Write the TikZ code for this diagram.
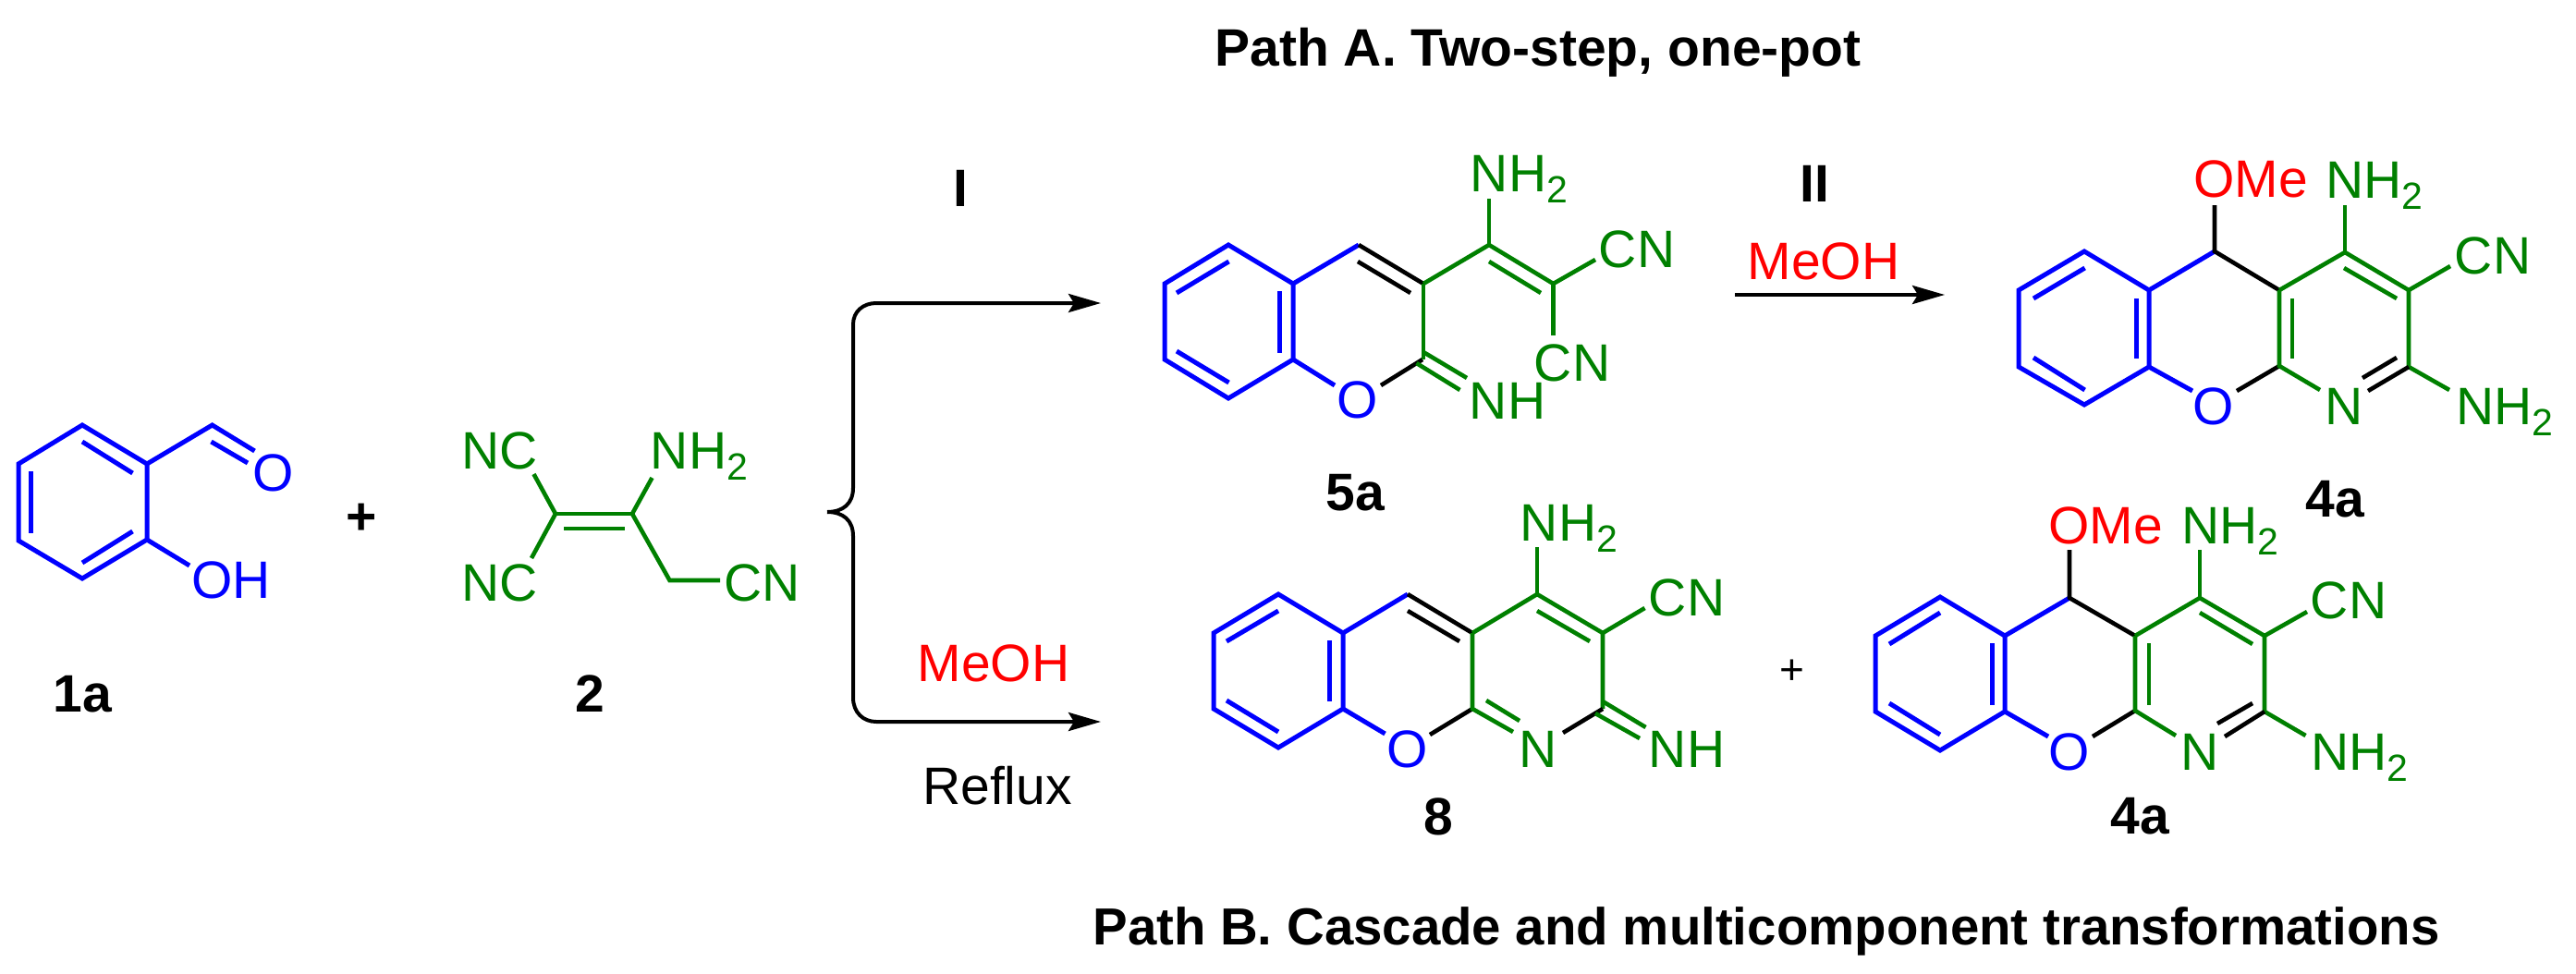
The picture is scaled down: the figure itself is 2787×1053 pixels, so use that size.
\documentclass[tikz,border=0pt]{standalone}
\usepackage{fontspec}
\setmainfont{Liberation Sans}
\usetikzlibrary{arrows.meta}
\definecolor{cgreen}{RGB}{0,128,0}
\definecolor{cblue}{RGB}{0,0,255}
\definecolor{cred}{RGB}{255,0,0}
\newcommand{\labsize}{\fontsize{57}{60}\selectfont}
\newcommand{\nhtwo}{NH\raisebox{-12pt}{\fontsize{41}{42}\selectfont 2}}
\tikzset{
  bl/.style={draw=cblue,line width=5pt,line join=miter},
  gr/.style={draw=cgreen,line width=4.6pt,line join=miter},
  bk/.style={draw=black,line width=4.6pt,line join=miter},
  txt/.style={inner sep=0pt,anchor=base,font=\labsize},
  gt/.style={txt,text=cgreen},
  bt/.style={txt,text=cblue},
  rt/.style={txt,text=cred},
  kt/.style={txt,text=black},
  cmp/.style={txt,text=black,font=\labsize\bfseries},
  arr/.style={draw=black,line width=4pt,-{Stealth[length=35pt,width=20pt,inset=6pt]}}
}
\begin{document}
\begin{tikzpicture}[x=1pt,y=-1pt]
\useasboundingbox (0,0) rectangle (2787,1053);
% titles
\node[cmp] (titleA) at (1664,71) {Path A. Two-step, one-pot};
\node[cmp,font=\fontsize{56.4}{60}\selectfont\bfseries] (titleB) at (1911,1022) {Path B. Cascade and multicomponent transformations};

% ===== 1a =====
\draw[bl] (89,460) -- (159,502) -- (159,584) -- (89,626) -- (20,585) -- (20,502) -- cycle;
\draw[bl] (89,478) -- (143.5,512);
\draw[bl] (33,510) -- (33,577);
\draw[bl] (89,609) -- (143.5,575);
\draw[bl] (159,502) -- (229.6,460) -- (275.5,488);
\draw[bl] (228.5,478) -- (268,501);
\draw[bl] (159,584) -- (205,612);
\node[bt] (o1) at (296,531) {O};
\node[bt] (oh1) at (250,647) {OH};
\node[cmp] (l1a) at (89.5,770) {1a};
\node[cmp] (plus1) at (391,578) {+};

% ===== 2 =====
\draw[gr] (601,556) -- (684,556);
\draw[gr] (610,572) -- (676,572);
\draw[gr] (577.5,513) -- (601,556) -- (575,604);
\draw[gr] (705.5,517) -- (684,556) -- (724.5,628) -- (779,628);
\node[gt] (nc2a) at (541,507) {NC};
\node[gt] (nc2b) at (541,650) {NC};
\node[gt] (nh22) at (756.5,507) {\nhtwo};
\node[gt] (cn2) at (825,650) {CN};
\node[cmp] (l2) at (638,770) {2};

% ===== brace and arrows =====
\coordinate (brace) at (895,554);
\coordinate (up) at (1191,328);
\coordinate (down) at (1191,781);
\draw[arr] (brace) .. controls (912,554) and (923,545) .. (923,528) -- (923,351) .. controls (923,337) and (934,328) .. (948,328) -- (up);
\draw[arr] (brace) .. controls (912,554) and (923,563) .. (923,580) -- (923,755) .. controls (923,771) and (934,781) .. (948,781) -- (down);
\node[cmp] (stepI) at (1039,223) {I};
\node[rt] (meoh1) at (1075,737) {MeOH};
\node[kt] (reflux) at (1079,870) {Reflux};

% ===== 5a =====
\draw[bl] (1329,265) -- (1399,307) -- (1399,389) -- (1329,431) -- (1260,389) -- (1260,307) -- cycle;
\draw[bl] (1273,317) -- (1329.5,283);
\draw[bl] (1384.6,315) -- (1384.6,382);
\draw[bl] (1273,380) -- (1329.5,414);
\draw[bl] (1399,307) -- (1470,265);
\draw[bl] (1399,389) -- (1444,417);
\draw[bk] (1470,265) -- (1540,307);
\draw[bk] (1469,283) -- (1526,317);
\draw[bk] (1494,417) -- (1539,389);
\draw[gr] (1540,307) -- (1540,389);
\draw[gr] (1540,381) -- (1587,409);
\draw[gr] (1532.5,393) -- (1579.5,422);
\draw[gr] (1540,307) -- (1611,265) -- (1680.5,307) -- (1726,281);
\draw[gr] (1611,283) -- (1667,317);
\draw[gr] (1611,265) -- (1611,215);
\draw[gr] (1680.5,307) -- (1680.5,363);
\node[bt] (o5) at (1469,452) {O};
\node[gt] (nh5) at (1631,453) {NH};
\node[gt] (nh25) at (1643.5,207) {\nhtwo};
\node[gt] (cn5a) at (1771,289) {CN};
\node[gt] (cn5b) at (1701,412) {CN};
\node[cmp] (l5a) at (1466,552) {5a};

% ===== arrow II =====
\coordinate (a2s) at (1877,319);
\coordinate (a2e) at (2104,319);
\draw[arr] (a2s) -- (a2e);
\node[cmp] (stepII) at (1963.5,218) {II};
\node[rt] (meoh2) at (1973,302) {MeOH};

% ===== 4a top =====
\draw[bl] (2255,272) -- (2325,314) -- (2325,397) -- (2255,438) -- (2184,397) -- (2184,314) -- cycle;
\draw[bl] (2200,323) -- (2255.6,290);
\draw[bl] (2311,323) -- (2311,388);
\draw[bl] (2200,387) -- (2255.6,422);
\draw[bl] (2325,314) -- (2396,272);
\draw[bl] (2325,397) -- (2372,423);
\draw[bk] (2396,222) -- (2396,272) -- (2466,314);
\draw[bk] (2420,423) -- (2466,396);
\draw[gr] (2466,314) -- (2537,273) -- (2606,314) -- (2606,397) -- (2650,422);
\draw[gr] (2536,290) -- (2593,323);
\draw[gr] (2537,273) -- (2537,222);
\draw[gr] (2606,314) -- (2651,288);
\draw[gr] (2466,314) -- (2466,396) -- (2510,422);
\draw[gr] (2480,323) -- (2480,388);
\draw[bk] (2562,423) -- (2606,397);
\draw[bk] (2556,409) -- (2593,387);
\node[rt] (ome4) at (2435,213) {OMe};
\node[gt] (nh24a) at (2569,214) {\nhtwo};
\node[gt] (cn4) at (2697,296) {CN};
\node[bt] (o4) at (2395,459) {O};
\node[gt] (n4) at (2536,459) {N};
\node[gt] (nh24b) at (2710,459) {\nhtwo};
\node[cmp] (l4a) at (2526,559) {4a};

% ===== 8 =====
\draw[bl] (1383,643) -- (1453,685) -- (1453,767) -- (1383,809) -- (1313,767) -- (1313,685) -- cycle;
\draw[bl] (1327,694) -- (1383,661);
\draw[bl] (1438,693) -- (1438,759);
\draw[bl] (1327,758) -- (1383,792);
\draw[bl] (1453,685) -- (1523,643);
\draw[bl] (1453,767) -- (1498.5,794);
\draw[bk] (1523,643) -- (1593,685);
\draw[bk] (1523,661) -- (1579,694);
\draw[bk] (1547,795) -- (1593,767);
\draw[gr] (1593,685) -- (1663,643) -- (1734,685) -- (1734,767);
\draw[gr] (1593,685) -- (1593,767) -- (1637,792);
\draw[gr] (1608,758) -- (1644,780);
\draw[gr] (1663,661) -- (1720,694);
\draw[gr] (1663,643) -- (1663,592);
\draw[gr] (1734,685) -- (1779.5,658);
\draw[bk] (1691,793) -- (1734,767);
\draw[gr] (1734,759) -- (1780.5,787);
\draw[gr] (1726,772) -- (1774,799);
\node[bt] (o8) at (1522.5,830) {O};
\node[gt] (n8) at (1664,830) {N};
\node[gt] (nh8) at (1825,830) {NH};
\node[gt] (nh28) at (1697.5,585) {\nhtwo};
\node[gt] (cn8) at (1825,666) {CN};
\node[cmp] (l8) at (1556,903) {8};
\node[txt,font=\fontsize{46}{48}\selectfont] (plus2) at (1939,740) {+};

% ===== 4a bottom =====
\draw[bl] (2099,646) -- (2169,688) -- (2169,770) -- (2099,812) -- (2029,770) -- (2029,688) -- cycle;
\draw[bl] (2044,697) -- (2099,663);
\draw[bl] (2155,696) -- (2155,763);
\draw[bl] (2044,761) -- (2099,795);
\draw[bl] (2169,688) -- (2239,647);
\draw[bl] (2169,770) -- (2216,797);
\draw[bk] (2239,595) -- (2239,647) -- (2310,688);
\draw[bk] (2264,797) -- (2310,769);
\draw[gr] (2310,688) -- (2380,647) -- (2450,688) -- (2450,770) -- (2494.5,796);
\draw[gr] (2380,663) -- (2437,697);
\draw[gr] (2380,647) -- (2380,595);
\draw[gr] (2450,688) -- (2496,662);
\draw[gr] (2310,688) -- (2310,769) -- (2354,796);
\draw[gr] (2325,696) -- (2325,763);
\draw[bk] (2407,797) -- (2450,770);
\draw[bk] (2399,783) -- (2437,761);
\node[rt] (ome4b) at (2278,588) {OMe};
\node[gt] (nh24c) at (2413,588) {\nhtwo};
\node[gt] (cn4b) at (2541,669) {CN};
\node[bt] (o4b) at (2239,833) {O};
\node[gt] (n4b) at (2380,833) {N};
\node[gt] (nh24d) at (2553,833) {\nhtwo};
\node[cmp] (l4b) at (2315,902) {4a};
\end{tikzpicture}
\end{document}
